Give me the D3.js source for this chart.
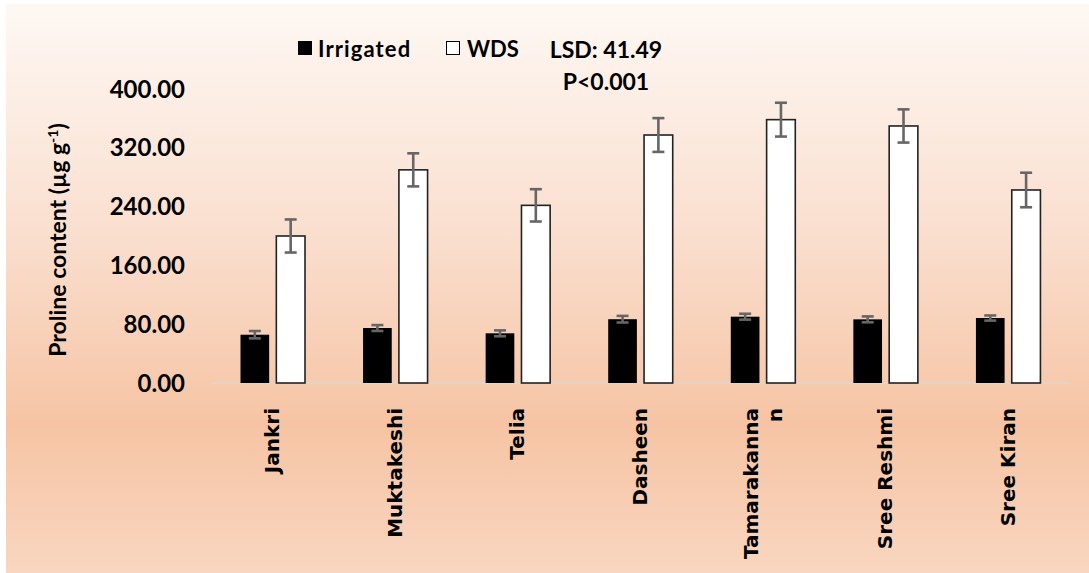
<!DOCTYPE html>
<html>
<head>
<meta charset="utf-8">
<script src="https://cdn.jsdelivr.net/npm/d3@7"></script>
<style>
html,body{margin:0;padding:0;background:#fff;}
svg{display:block;}
</style>
</head>
<body>
<svg id="chart" width="1089" height="573"></svg>
<script>
const categories = ["Jankri","Muktakeshi","Telia","Dasheen","Tamarakannan","Sree Reshmi","Sree Kiran"];
const categoryLines = [["Jankri"],["Muktakeshi"],["Telia"],["Dasheen"],["Tamarakanna","n"],["Sree Reshmi"],["Sree Kiran"]];
const seriesNames = ["Irrigated","WDS"];
const irrigated = [65.7, 74.8, 67.6, 86.8, 90.2, 86.6, 88.4];
const irrigatedErr = [5, 4, 4, 4.5, 4, 4, 3.5];
const wds = [200, 290, 241.7, 337.4, 358.3, 349.7, 262.6];
const wdsErr = [22.5, 22.5, 22, 23, 23, 22.6, 23.5];
const yTicks = [0, 80, 160, 240, 320, 400];
const annotation = ["LSD: 41.49", "P<0.001"];

const svg = d3.select("#chart");
const W = 1089, H = 573;

// background gradient
const defs = svg.append("defs");
const grad = defs.append("linearGradient").attr("id","bg").attr("x1",0).attr("y1",0).attr("x2",0).attr("y2",1);
grad.append("stop").attr("offset","0%").attr("stop-color","#fef8f4");
grad.append("stop").attr("offset","40%").attr("stop-color","#fadfcf");
grad.append("stop").attr("offset","74%").attr("stop-color","#f6c4a4");
grad.append("stop").attr("offset","100%").attr("stop-color","#f9d6c0");
svg.append("rect").attr("x",6).attr("y",4).attr("width",W-6).attr("height",H-4).attr("fill","url(#bg)");

const y = d3.scaleLinear().domain([0,400]).range([383,89]);
const x0 = d3.scaleBand().domain(categories).range([211,1069]).padding(0);
const x1 = d3.scaleBand().domain(seriesNames).range([29.5, 94]).paddingInner(0.2);

const font = "Lato, 'Open Sans', sans-serif";

// y axis (labels only)
const yAxis = d3.axisLeft(y).tickValues(yTicks).tickFormat(d3.format(".2f")).tickSize(0).tickPadding(0);
const gy = svg.append("g").attr("transform","translate(185,0)").call(yAxis);
gy.select(".domain").remove();
gy.selectAll("text").attr("font-family",font).attr("font-weight","bold").attr("font-size","24px").attr("fill","#000").attr("dy","0.34em");

// y title
svg.append("text")
  .attr("transform","translate(66,240) rotate(-90)")
  .attr("text-anchor","middle")
  .attr("font-family",font).attr("font-weight","bold").attr("font-size","23px").attr("fill","#000")
  .call(t=>{
    t.append("tspan").text("Proline content (µg g");
    t.append("tspan").attr("dy","-8").attr("font-size","14px").text("-1");
    t.append("tspan").attr("dy","8").text(")");
  });

// x axis line
svg.append("line").attr("x1",211).attr("x2",1069).attr("y1",y(0)).attr("y2",y(0))
  .attr("stroke","#d9d9d9").attr("stroke-width",1.5);

const data = categories.map((c,i)=>({c, vals:[
  {s:"Irrigated", v:irrigated[i], e:irrigatedErr[i]},
  {s:"WDS", v:wds[i], e:wdsErr[i]}
]}));

const groups = svg.append("g").selectAll("g").data(data).join("g")
  .attr("transform",d=>`translate(${x0(d.c)},0)`);

groups.selectAll("rect").data(d=>d.vals).join("rect")
  .attr("x",d=>x1(d.s)).attr("width",x1.bandwidth())
  .attr("y",d=>y(d.v)).attr("height",d=>y(0)-y(d.v))
  .attr("fill",d=>d.s==="Irrigated"?"#000":"#fff")
  .attr("stroke",d=>d.s==="Irrigated"?"none":"#222")
  .attr("stroke-width",1.6);

const eb = groups.selectAll("g.eb").data(d=>d.vals).join("g").attr("class","eb")
  .attr("stroke","#666").attr("stroke-width",2.6);
eb.append("line")
  .attr("x1",d=>x1(d.s)+x1.bandwidth()/2).attr("x2",d=>x1(d.s)+x1.bandwidth()/2)
  .attr("y1",d=>y(d.v+d.e)).attr("y2",d=>y(d.v-d.e));
eb.append("line")
  .attr("x1",d=>x1(d.s)+x1.bandwidth()/2-6).attr("x2",d=>x1(d.s)+x1.bandwidth()/2+6)
  .attr("y1",d=>y(d.v+d.e)).attr("y2",d=>y(d.v+d.e));
eb.append("line")
  .attr("x1",d=>x1(d.s)+x1.bandwidth()/2-6).attr("x2",d=>x1(d.s)+x1.bandwidth()/2+6)
  .attr("y1",d=>y(d.v-d.e)).attr("y2",d=>y(d.v-d.e));

// x labels
const xl = svg.append("g").selectAll("text").data(categories).join("text")
  .attr("font-family","'DejaVu Sans', sans-serif").attr("font-weight","bold").attr("font-size","20px").attr("fill","#000")
  .attr("text-anchor","end")
  .attr("transform",(d,i)=>{
    const n = categoryLines[i].length;
    const cx = x0(d)+x0.bandwidth()/2 + 7 - (n-1)*12;
    return `translate(${cx},408) rotate(-90)`;
  });
xl.each(function(d,i){
  const t = d3.select(this);
  categoryLines[i].forEach((ln,j)=>{
    t.append("tspan").attr("x",0).attr("dy",j===0?0:"1.2em").text(ln);
  });
});

// legend
const legend = svg.append("g");
legend.append("rect").attr("x",298).attr("y",41).attr("width",14).attr("height",14).attr("fill","#000");
legend.append("text").attr("x",318).attr("y",57).text(seriesNames[0])
  .attr("font-family",font).attr("font-weight","bold").attr("font-size","22px").attr("letter-spacing","1.1px");
legend.append("rect").attr("x",446.5).attr("y",41.5).attr("width",13).attr("height",13).attr("fill","#fff").attr("stroke","#000").attr("stroke-width",1);
legend.append("text").attr("x",467).attr("y",57).text(seriesNames[1])
  .attr("font-family",font).attr("font-weight","bold").attr("font-size","22px");

svg.append("text").attr("x",606).attr("y",58).attr("text-anchor","middle").text(annotation[0])
  .attr("font-family",font).attr("font-weight","bold").attr("font-size","23px");
svg.append("text").attr("x",606).attr("y",90).attr("text-anchor","middle").text(annotation[1])
  .attr("font-family",font).attr("font-weight","bold").attr("font-size","23px");
</script>
</body>
</html>
